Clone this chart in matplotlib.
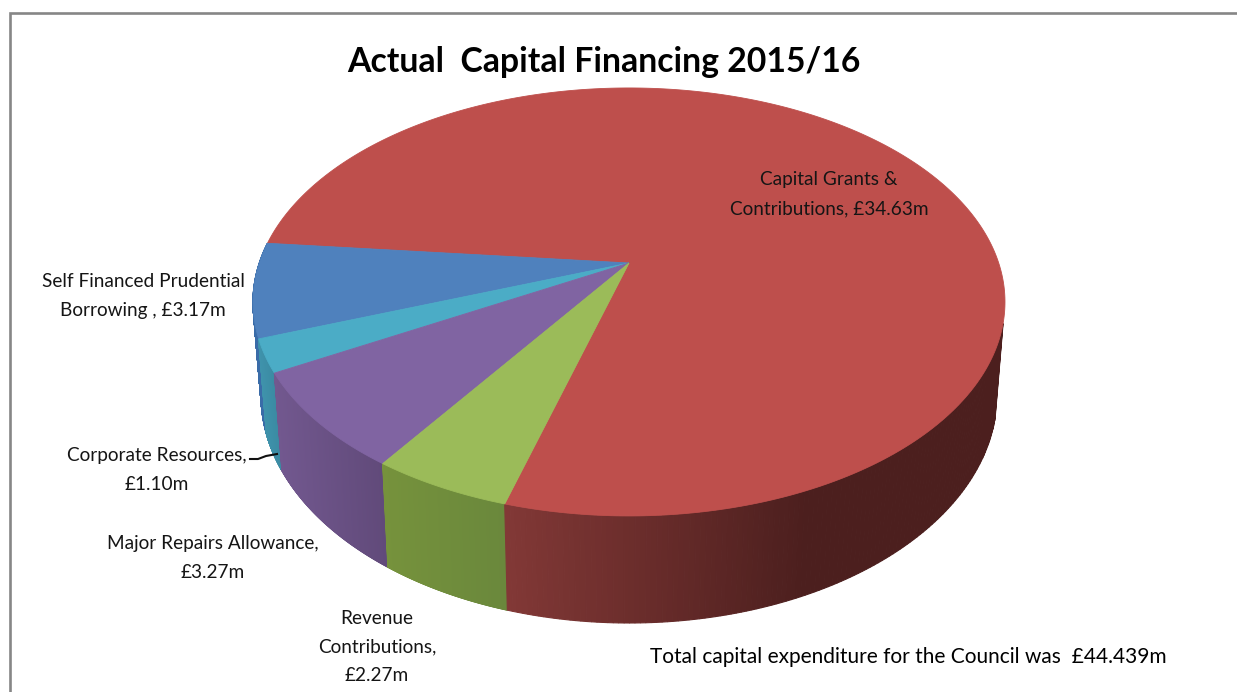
import numpy as np
import matplotlib
matplotlib.use('Agg')
import matplotlib.pyplot as plt
from matplotlib.path import Path
from matplotlib.transforms import Transform
from matplotlib.colors import to_rgb

# Data
categories = ['Capital Grants &\nContributions', 'Self Financed Prudential\nBorrowing ',
              'Corporate Resources', 'Major Repairs Allowance', 'Revenue\nContributions']
values = [34.63, 3.17, 1.10, 3.27, 2.27]
value_labels = ['£34.63m', '£3.17m', '£1.10m', '£3.27m', '£2.27m']
title_text = 'Actual  Capital Financing 2015/16'
note_text = 'Total capital expenditure for the Council was  £44.439m'

top_colors = ['#BE4F4C', '#4F81BD', '#4BACC6', '#8064A2', '#9BBB59']
wall_left = ['#823836', '#3A6CA8', '#3F93AC', '#72588F', '#76923C']
wall_right = ['#4C1F1E', '#3A6CA8', '#3B8BA3', '#614A7A', '#6A883C']

W, H = 1237, 692
start_angle = 253.9
# pie apex and ellipse geometry in pixels
apex = (629, 263)
top_ell = (629, 302, 376, 214)
bot_ell = (629, 395, 368, 228)
persp_k, persp_a, persp_b = 0.182, 369.7, 206.9

plt.rcParams['font.family'] = ['Lato', 'DejaVu Sans']


class Tilt(Transform):
    # maps the unit circle of the pie onto the tilted top face
    input_dims = 2
    output_dims = 2
    is_affine = False
    has_inverse = False

    def transform_non_affine(self, xy):
        xy = np.asarray(xy, dtype=float)
        d = 1 + persp_k * xy[:, 1]
        return np.column_stack([apex[0] + persp_a * xy[:, 0] / d,
                                apex[1] - persp_b * xy[:, 1] / d])

    def transform_path_non_affine(self, path):
        # flatten the curves first, bezier control points do not survive the tilt
        pts = []
        for curve, code in path.iter_bezier():
            if curve.degree > 0:
                pts.append(curve(np.linspace(0, 1, 30)))
        return Path(self.transform_non_affine(np.vstack(pts)))


def ellipse_phi(theta_deg):
    # position of a pie angle on the top ellipse, as ellipse parameter
    t = np.radians(theta_deg)
    p = Tilt().transform_non_affine(np.column_stack([np.cos(t), np.sin(t)]))
    return np.arctan2((top_ell[1] - p[:, 1]) / top_ell[3], (p[:, 0] - top_ell[0]) / top_ell[2])


def wall_point(phi, ell):
    return ell[0] + ell[2] * np.cos(phi), ell[1] - ell[3] * np.sin(phi)


fig = plt.figure(figsize=(W / 100, H / 100), dpi=100)
ax = fig.add_axes([0, 0, 1, 1])

wedges, _ = ax.pie(values, startangle=start_angle, colors=top_colors, radius=1,
                   wedgeprops={'linewidth': 0.6})
for w, c in zip(wedges, top_colors):
    w.set_edgecolor(c)
    w.set_transform(Tilt() + ax.transData)
    w.set_zorder(5)

ax.set_aspect('auto')
ax.set_xlim(0, W)
ax.set_ylim(H, 0)
ax.axis('off')

# Side wall: thin strips between the top and bottom ellipses
edges = start_angle + np.cumsum([0] + values) / sum(values) * 360
for i in range(len(values)):
    th0, th1 = edges[i], edges[i + 1]
    phi0 = np.unwrap(ellipse_phi(np.linspace(th0, th1, 400)))
    if i == 0:
        # red wall only shows from its seam round to the right silhouette
        phi0 = phi0[phi0 < np.radians(-5.6)]
    elif i == 1:
        # blue wall: only a sliver at the left silhouette
        phi0 = phi0[(phi0 > np.radians(-174)) | (phi0 < np.radians(-180))]
    if len(phi0) < 2:
        continue
    xt, yt = wall_point(phi0, top_ell)
    xb, yb = wall_point(phi0, bot_ell)
    c0, c1 = np.array(to_rgb(wall_left[i])), np.array(to_rgb(wall_right[i]))
    span = xt.max() - xt.min()
    for j in range(len(phi0) - 1):
        f = (xt[j] - xt.min()) / max(span, 1)
        if i == 0:
            f = min(1, (xt[j] - xt.min()) / 300)
        col = c0 + (c1 - c0) * f
        ax.fill([xt[j], xt[j + 1], xb[j + 1], xb[j]], [yt[j], yt[j + 1], yb[j + 1], yb[j]],
                color=col, linewidth=0.8, zorder=2 + (i == 0))

# Frame of the chart area
ax.plot([10, 10, W], [H, 12.5, 12.5], color='#868686', lw=1.9, solid_joinstyle='miter', zorder=1)

# Leader line of the small slice
ax.plot([250, 258, 266, 277], [459, 459, 456, 454], color='#111111', lw=1.5, zorder=6)

# Labels
label_pos = [(829, 194), (143, 296), (157, 470), (213, 558), (377, 647)]
for cat, val, (lx, ly) in zip(categories, value_labels, label_pos):
    name = cat + ','
    sep = ' ' if '\n' in cat and not cat.startswith('Revenue') else '\n'
    ax.text(lx, ly, name + sep + val, ha='center', va='center', fontsize=13.65,
            linespacing=1.85, color='#151515', zorder=7)

ax.text(603.5, 62, title_text, ha='center', va='center', fontsize=24.3, fontweight='bold',
        color='black', zorder=7)
ax.text(908, 657, note_text, ha='center', va='center', fontsize=15, color='black', zorder=7)

fig.savefig('out.png', dpi=100, facecolor='white')
